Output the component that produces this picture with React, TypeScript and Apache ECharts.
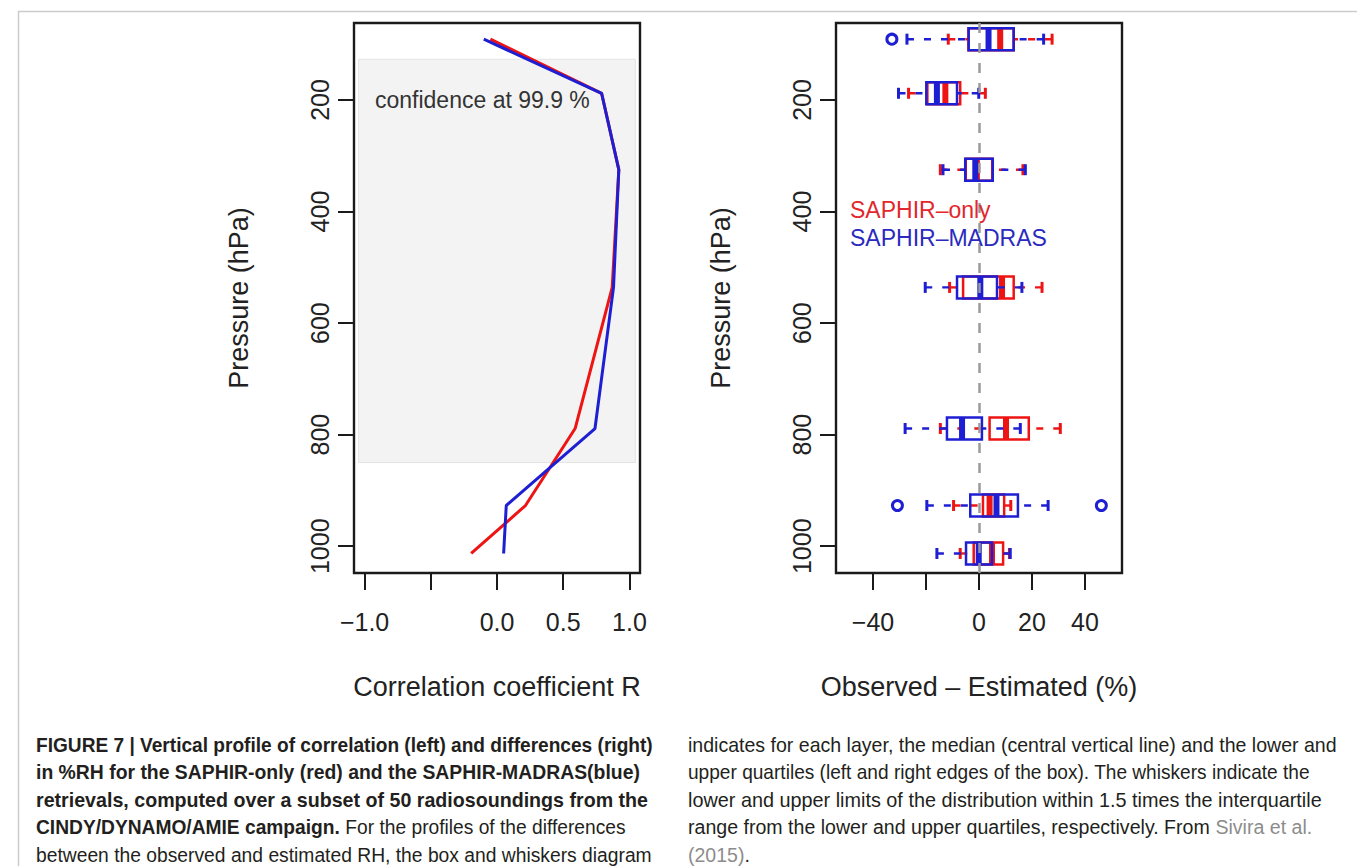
import React, { useEffect, useRef } from 'react';
import * as echarts from 'echarts';

// ---------- data ----------
const pressureLevels = [91, 188, 325, 536, 789, 927, 1013];

// left panel: correlation coefficient R per level
const corrSaphirOnly = [-0.05, 0.79, 0.92, 0.87, 0.59, 0.215, -0.195];
const corrSaphirMadras = [-0.1, 0.79, 0.92, 0.88, 0.74, 0.07, 0.05];

// confidence band (shaded)
const confidenceR = [-1.045, 1.045];
const confidenceP = [127, 850];

// right panel: box-and-whisker stats (Observed - Estimated, %RH)
const onlyLow = [-11.6, -26.6, -14.6, -11.1, -14.6, -9.6, -7.1];
const onlyQ1 = [-4.0, -19.5, -5.0, -6.0, 4.0, 1.5, -2.0];
const onlyMed = [8.0, -12.7, -0.8, 8.7, 10.2, 4.0, 4.9];
const onlyQ3 = [13.1, -7.1, 5.0, 13.1, 18.8, 9.5, 9.1];
const onlyHigh = [27.6, 2.4, 16.6, 23.8, 30.7, 12.0, 11.5];

const madLow = [-27.2, -30.4, -13.6, -20.3, -27.9, -19.7, -15.9];
const madQ1 = [-3.9, -19.9, -5.2, -8.3, -12.1, -3.3, -4.9];
const madMed = [3.6, -15.9, -1.4, 0.5, -6.4, 6.6, -0.1];
const madQ3 = [13.1, -8.3, 5.2, 6.8, 1.1, 14.7, 4.9];
const madHigh = [24.4, -0.1, 17.5, 16.2, 15.6, 26.1, 11.8];

const madOutlierLevels = [91, 927, 927];
const madOutlierValues = [-32.9, -30.8, 46.2];

// ticks
const pressureTicks = [200, 400, 600, 800, 1000];
const corrTicks = [-1, -0.5, 0, 0.5, 1];
const corrTickLabels = [-1, 0, 0.5, 1];
const diffTicks = [-40, -20, 0, 20, 40];
const diffTickLabels = [-40, 0, 20, 40];

// caption
const captionLeft: [string, string][][] = [
  [['FIGURE 7 | Vertical profile of correlation (left) and differences (right)', 'b']],
  [['in %RH for the SAPHIR-only (red) and the SAPHIR-MADRAS(blue)', 'b']],
  [['retrievals, computed over a subset of 50 radiosoundings from the', 'b']],
  [['CINDY/DYNAMO/AMIE campaign.', 'b'], [' For the profiles of the differences', 'n']],
  [['between the observed and estimated RH, the box and whiskers diagram', 'n']],
];
const captionRight: [string, string][][] = [
  [['indicates for each layer, the median (central vertical line) and the lower and', 'n']],
  [['upper quartiles (left and right edges of the box). The whiskers indicate the', 'n']],
  [['lower and upper limits of the distribution within 1.5 times the interquartile', 'n']],
  [['range from the lower and upper quartiles, respectively. From ', 'n'], ['Sivira et al.', 'g']],
  [['(2015)', 'g'], ['.', 'n']],
];

// ---------- style ----------
const FONT = '"Liberation Sans", Arial, Helvetica, sans-serif';
const RED = '#ee1414';
const BLUE = '#1e1ed2';
const INK = '#222222';
const FRAME = '#1a1a1a';

const minusFmt = (v: number, digits: number) =>
  (v < 0 ? '\u2212' : '') + Math.abs(v).toFixed(digits);

function makeBoxRender(color: string) {
  return (_params: any, api: any) => {
    const p = api.value(0);
    const pt = (v: number) => api.coord([v, p]);
    const [xLo, yc] = pt(api.value(1));
    const [xQ1] = pt(api.value(2));
    const [xMd] = pt(api.value(3));
    const [xQ3] = pt(api.value(4));
    const [xHi] = pt(api.value(5));
    const hb = 11;
    const hs = 5.5;
    const dash = { stroke: color, lineWidth: 2.4, lineDash: [7, 10] };
    const solid = { stroke: color, lineWidth: 3 };
    return {
      type: 'group',
      children: [
        { type: 'line', shape: { x1: xLo, y1: yc, x2: xQ1, y2: yc }, style: dash },
        { type: 'line', shape: { x1: xHi, y1: yc, x2: xQ3, y2: yc }, style: dash },
        { type: 'line', shape: { x1: xLo, y1: yc - hs, x2: xLo, y2: yc + hs }, style: solid },
        { type: 'line', shape: { x1: xHi, y1: yc - hs, x2: xHi, y2: yc + hs }, style: solid },
        {
          type: 'rect',
          shape: { x: xQ1, y: yc - hb, width: xQ3 - xQ1, height: 2 * hb },
          style: { fill: 'none', stroke: color, lineWidth: 2.5 },
        },
        { type: 'line', shape: { x1: xMd, y1: yc - hb, x2: xMd, y2: yc + hb }, style: { stroke: color, lineWidth: 6 } },
      ],
    };
  };
}

function measure(text: string, weight: string, size: number) {
  const c = document.createElement('canvas');
  const ctx = c.getContext('2d');
  if (!ctx) return text.length * size * 0.5;
  ctx.font = `${weight} ${size}px ${FONT}`;
  return ctx.measureText(text).width;
}

export default function App() {
  const ref = useRef<HTMLDivElement>(null);

  useEffect(() => {
    if (!ref.current) return;
    const chart = echarts.init(ref.current, undefined, { renderer: 'svg' });

    const capSize = 20;
    const capRows = [745, 772, 800, 827, 855];
    const rich = {
      b: { fontWeight: 'bold', fontSize: capSize, fontFamily: FONT, fill: '#231f20' },
      n: { fontWeight: 'normal', fontSize: capSize, fontFamily: FONT, fill: '#231f20' },
      g: { fontWeight: 'normal', fontSize: capSize, fontFamily: FONT, fill: '#8c8c8c' },
    };
    const lineWidth = (segs: [string, string][]) =>
      segs.reduce((s, [t, k]) => s + measure(t, k === 'b' ? 'bold' : 'normal', capSize), 0);
    const buildCaption = (lines: [string, string][][], x0: number, targets: (number | null)[]) => {
      const scales = lines.map((segs, i) => (targets[i] ? (targets[i] as number) / lineWidth(segs) : 0));
      const valid = scales.filter((s) => s > 0);
      const avg = valid.reduce((a, b) => a + b, 0) / valid.length;
      return lines.map((segs, i) => ({
        type: 'text',
        x: x0,
        y: capRows[i],
        scaleX: scales[i] > 0 ? scales[i] : avg,
        style: {
          text: segs.map(([t, k]) => `{${k}|${t}}`).join(''),
          rich,
          fontSize: capSize,
          fontFamily: FONT,
          verticalAlign: 'middle',
          align: 'left',
        },
      }));
    };

    const axisLabelBase = { fontSize: 25, color: INK, fontFamily: FONT };
    const nameStyle = { fontSize: 27, color: INK, fontFamily: FONT };
    const tickStyle = { lineStyle: { color: FRAME, width: 2 } };

    const makeYAxis = (gridIndex: number) => ({
      type: 'value',
      gridIndex,
      inverse: true,
      min: 62,
      max: 1048,
      splitLine: { show: false },
      axisLine: { show: false, onZero: false },
      axisTick: { show: true, customValues: pressureTicks, length: 16, ...tickStyle },
      axisLabel: {
        ...axisLabelBase,
        customValues: pressureTicks,
        rotate: 90,
        margin: 22,
        formatter: (v: number) => String(v),
      },
      name: 'Pressure (hPa)',
      nameLocation: 'middle',
      nameGap: 102,
      nameTextStyle: nameStyle,
    });

    const boxData = (lo: number[], q1: number[], md: number[], q3: number[], hi: number[]) =>
      pressureLevels.map((p, i) => [p, lo[i], q1[i], md[i], q3[i], hi[i]]);

    const option: any = {
      animation: false,
      backgroundColor: '#ffffff',
      textStyle: { fontFamily: FONT },
      grid: [
        { left: 354, top: 23, width: 286, height: 550, show: true, borderColor: FRAME, borderWidth: 2.4, backgroundColor: 'transparent' },
        { left: 836, top: 23, width: 286, height: 550, show: true, borderColor: FRAME, borderWidth: 2.4, backgroundColor: 'transparent' },
      ],
      xAxis: [
        {
          type: 'value',
          gridIndex: 0,
          min: -1.08,
          max: 1.08,
          splitLine: { show: false },
          axisLine: { show: false, onZero: false },
          axisTick: { show: true, customValues: corrTicks, length: 17, ...tickStyle },
          axisLabel: { ...axisLabelBase, customValues: corrTickLabels, margin: 36, formatter: (v: number) => minusFmt(v, 1) },
          name: 'Correlation coefficient R',
          nameLocation: 'middle',
          nameGap: 100,
          nameTextStyle: nameStyle,
        },
        {
          type: 'value',
          gridIndex: 1,
          min: -54,
          max: 54,
          splitLine: { show: false },
          axisLine: { show: false, onZero: false },
          axisTick: { show: true, customValues: diffTicks, length: 17, ...tickStyle },
          axisLabel: { ...axisLabelBase, customValues: diffTickLabels, margin: 36, formatter: (v: number) => minusFmt(v, 0) },
          name: 'Observed \u2013 Estimated (%)',
          nameLocation: 'middle',
          nameGap: 100,
          nameTextStyle: nameStyle,
        },
      ],
      yAxis: [makeYAxis(0), makeYAxis(1)],
      series: [
        {
          type: 'line',
          xAxisIndex: 0,
          yAxisIndex: 0,
          data: [],
          z: 1,
          markArea: {
            silent: true,
            itemStyle: { color: '#f3f3f3', borderColor: '#e3e3e3', borderWidth: 1 },
            data: [[{ coord: [confidenceR[0], confidenceP[0]] }, { coord: [confidenceR[1], confidenceP[1]] }]],
          },
        },
        {
          name: 'SAPHIR-only',
          type: 'line',
          xAxisIndex: 0,
          yAxisIndex: 0,
          z: 3,
          symbol: 'none',
          lineStyle: { color: RED, width: 3 },
          itemStyle: { color: RED },
          data: pressureLevels.map((p, i) => [corrSaphirOnly[i], p]),
        },
        {
          name: 'SAPHIR-MADRAS',
          type: 'line',
          xAxisIndex: 0,
          yAxisIndex: 0,
          z: 4,
          symbol: 'none',
          lineStyle: { color: BLUE, width: 3 },
          itemStyle: { color: BLUE },
          data: pressureLevels.map((p, i) => [corrSaphirMadras[i], p]),
        },
        {
          type: 'line',
          xAxisIndex: 1,
          yAxisIndex: 1,
          data: [],
          z: 1,
          markLine: {
            silent: true,
            symbol: ['none', 'none'],
            label: { show: false },
            lineStyle: { color: '#9a9a9a', type: [10, 10], width: 2.5 },
            data: [{ xAxis: 0 }],
          },
        },
        {
          name: 'SAPHIR-only box',
          type: 'custom',
          xAxisIndex: 1,
          yAxisIndex: 1,
          z: 3,
          renderItem: makeBoxRender(RED),
          encode: { x: [1, 2, 3, 4, 5], y: 0 },
          data: boxData(onlyLow, onlyQ1, onlyMed, onlyQ3, onlyHigh),
        },
        {
          name: 'SAPHIR-MADRAS box',
          type: 'custom',
          xAxisIndex: 1,
          yAxisIndex: 1,
          z: 4,
          renderItem: makeBoxRender(BLUE),
          encode: { x: [1, 2, 3, 4, 5], y: 0 },
          data: boxData(madLow, madQ1, madMed, madQ3, madHigh),
        },
        {
          name: 'SAPHIR-MADRAS outliers',
          type: 'scatter',
          xAxisIndex: 1,
          yAxisIndex: 1,
          z: 5,
          symbol: 'circle',
          symbolSize: 10,
          itemStyle: { color: '#ffffff', borderColor: BLUE, borderWidth: 3, opacity: 1 },
          data: madOutlierLevels.map((p, i) => [madOutlierValues[i], p]),
        },
      ],
      graphic: [
        {
          type: 'polyline',
          z: -10,
          shape: { points: [[18.5, 870], [18.5, 11.5], [1357, 11.5]] },
          style: { stroke: '#cccccc', lineWidth: 1.5, fill: 'none' },
        },
        {
          type: 'text',
          x: 375,
          y: 100,
          z: 10,
          style: { text: 'confidence at 99.9 %', fontSize: 23, fontFamily: FONT, fill: '#333333', verticalAlign: 'middle' },
        },
        {
          type: 'text',
          x: 850,
          y: 210,
          z: 10,
          style: { text: 'SAPHIR\u2013only', fontSize: 23, fontFamily: FONT, fill: '#e2272d', verticalAlign: 'middle' },
        },
        {
          type: 'text',
          x: 850,
          y: 238,
          z: 10,
          style: { text: 'SAPHIR\u2013MADRAS', fontSize: 23, fontFamily: FONT, fill: '#2a2ac0', verticalAlign: 'middle' },
        },
        ...buildCaption(captionLeft, 36, [617, 604, 612, 590, 616]),
        ...buildCaption(captionRight, 688, [649, 622, 634, 624, null]),
      ],
    };

    chart.setOption(option);
    return () => chart.dispose();
  }, []);

  return (
    <div
      ref={ref}
      style={{ position: 'absolute', left: 0, top: 0, width: 1357, height: 866, background: '#ffffff' }}
    />
  );
}
